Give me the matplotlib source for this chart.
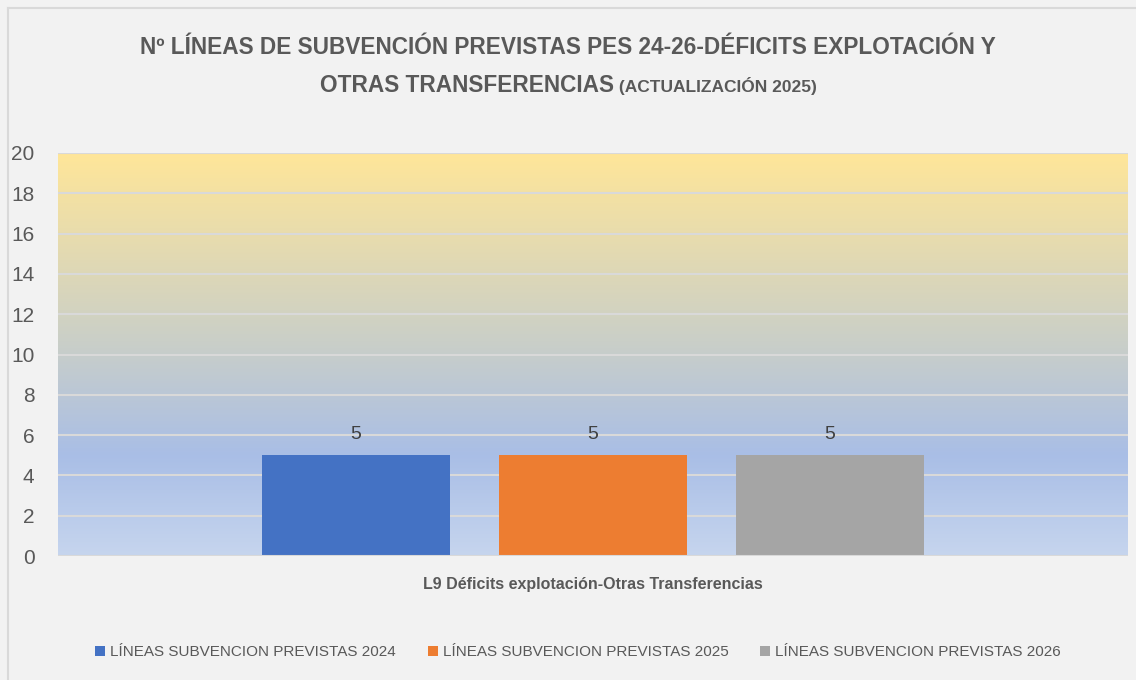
import numpy as np
import matplotlib.pyplot as plt
from matplotlib.colors import LinearSegmentedColormap
from matplotlib.lines import Line2D

FONT = ['Liberation Sans Narrow', 'Liberation Sans', 'DejaVu Sans']
plt.rcParams['font.family'] = FONT

category = "L9 Déficits explotación-Otras Transferencias"
series = ["LÍNEAS SUBVENCION PREVISTAS 2024",
          "LÍNEAS SUBVENCION PREVISTAS 2025",
          "LÍNEAS SUBVENCION PREVISTAS 2026"]
values = [5, 5, 5]
colors = ["#4472C4", "#ED7D31", "#A5A5A5"]
yticks = [0, 2, 4, 6, 8, 10, 12, 14, 16, 18, 20]

W, H = 1136, 680
fig = plt.figure(figsize=(W / 100, H / 100), dpi=100)
fig.patch.set_facecolor("#F2F2F2")

# chart border (top and left edges visible)
fig.add_artist(Line2D([7.5 / W, 7.5 / W], [0, 1 - 7.5 / H], transform=fig.transFigure,
                      color="#D9D9D9", lw=1.5))
fig.add_artist(Line2D([7.5 / W, 1], [1 - 7.5 / H, 1 - 7.5 / H], transform=fig.transFigure,
                      color="#D9D9D9", lw=1.5))

left, right, top, bottom = 58, 1128, 153, 556
ax = fig.add_axes([left / W, 1 - bottom / H, (right - left) / W, (bottom - top) / H])
ax.set_xlim(-0.5, 0.5)
ax.set_ylim(0, 20)

# gradient background of the plot area
cmap = LinearSegmentedColormap.from_list(
    "bg", [(0.0, "#C6D5EE"), (0.25, "#A9BEE6"), (0.55, "#CCD0C6"), (1.0, "#FFE699")])
grad = np.linspace(0, 1, 256).reshape(-1, 1)
ax.imshow(grad, cmap=cmap, aspect="auto", extent=(-0.5, 0.5, 0, 20),
          origin="lower", zorder=0)

for y in yticks[1:]:
    ax.axhline(y, color="#D9D9D9", lw=1.5, zorder=1)
ax.axhline(0, color="#D9D9D9", lw=1.5, zorder=3)

width = 0.175
step = 0.2215
offsets = [(i - 1) * step for i in range(len(series))]
for off, v, c, name in zip(offsets, values, colors, series):
    ax.bar(off, v, width=width, color=c, zorder=2, label=name)
    ax.text(off, v + 0.6, f"{v}", ha="center", va="bottom", fontsize=14,
            color="#404040", family=FONT)

for s in ax.spines.values():
    s.set_visible(False)
ax.set_xticks([0])
ax.set_xticklabels([category], fontsize=11.5, fontweight="bold", color="#595959")
ax.tick_params(axis="x", length=0, pad=15)
ax.set_yticks(yticks)
ax.set_yticklabels([str(t) for t in yticks], fontsize=15, color="#595959")
ax.tick_params(axis="y", length=0, pad=17)

# title
fig.text(0.5, 1 - 47 / H, "Nº LÍNEAS DE SUBVENCIÓN PREVISTAS PES 24-26-DÉFICITS EXPLOTACIÓN Y",
         ha="center", va="center", fontsize=16.3, fontweight="bold", color="#595959")
fig.canvas.draw()
r = fig.canvas.get_renderer()
t1 = fig.text(0, 1 - 92 / H, "OTRAS TRANSFERENCIAS", ha="left", va="baseline",
              fontsize=16.3, fontweight="bold", color="#595959")
t2 = fig.text(0, 1 - 92 / H, " (ACTUALIZACIÓN 2025)", ha="left", va="baseline",
              fontsize=12.5, fontweight="bold", color="#595959")
w1 = t1.get_window_extent(r).width
w2 = t2.get_window_extent(r).width
x0 = (W - w1 - w2) / 2
t1.set_x(x0 / W)
t2.set_x((x0 + w1) / W)

leg = fig.legend(loc="center", bbox_to_anchor=(578 / W, 1 - 652 / H), ncol=3, frameon=False,
                 fontsize=11, handlelength=0.65, handleheight=0.65, handletextpad=0.33,
                 columnspacing=2.1, labelcolor="#595959")

fig.savefig("out.png", dpi=100, facecolor=fig.get_facecolor())
